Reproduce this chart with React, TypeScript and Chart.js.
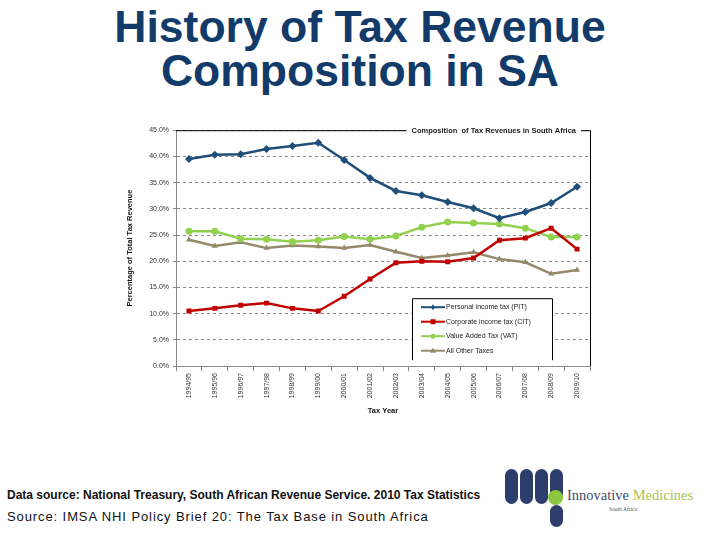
import React, { useEffect, useRef } from "react";
import { Chart, registerables } from "chart.js";

Chart.register(...registerables);

const taxYears = [
  "1994/95", "1995/96", "1996/97", "1997/98", "1998/99", "1999/00", "2000/01", "2001/02",
  "2002/03", "2003/04", "2004/05", "2005/06", "2006/07", "2007/08", "2008/09", "2009/10",
];
const personalIncomeTax = [39.5, 40.3, 40.4, 41.4, 42.0, 42.6, 39.3, 35.9, 33.4, 32.6, 31.3, 30.1, 28.2, 29.4, 31.1, 34.2];
const corporateIncomeTax = [10.5, 11.0, 11.6, 12.0, 11.0, 10.5, 13.3, 16.6, 19.7, 20.0, 19.9, 20.6, 24.0, 24.4, 26.3, 22.3];
const valueAddedTax = [25.7, 25.7, 24.3, 24.2, 23.7, 24.0, 24.7, 24.2, 24.8, 26.5, 27.5, 27.3, 27.1, 26.3, 24.6, 24.6];
const allOtherTaxes = [24.1, 22.9, 23.6, 22.5, 23.0, 22.8, 22.5, 23.1, 21.8, 20.6, 21.1, 21.7, 20.4, 19.8, 17.6, 18.3];

const seriesNames = [
  "Personal income tax (PIT)",
  "Corporate income tax (CIT)",
  "Value Added Tax (VAT)",
  "All Other Taxes",
];
const seriesColors = ["#1F4E79", "#C00000", "#92D050", "#948A6A"];
const seriesMarkers = ["rectRot", "rect", "circle", "triangle"];
const chartTitle = "Composition  of Tax Revenues in South Africa";

const SANS = "'Liberation Sans', Arial, sans-serif";

// Frame (black top/right edges), boxed title and the inset legend
const framePlugin = {
  id: "frame",
  afterDraw(chart: any) {
    const { ctx, chartArea } = chart;
    const { left, right, top, bottom } = chartArea;
    ctx.save();
    ctx.strokeStyle = "#000";
    ctx.lineWidth = 1;
    ctx.beginPath();
    ctx.moveTo(left, top + 0.5);
    ctx.lineTo(right + 0.5, top + 0.5);
    ctx.lineTo(right + 0.5, bottom);
    ctx.stroke();

    // title over the top edge
    ctx.font = `bold 7.5px ${SANS}`;
    const tw = ctx.measureText(chartTitle).width;
    const tx = right - 14 - tw;
    ctx.fillStyle = "#fff";
    ctx.fillRect(tx - 5, top - 5, tw + 10, 11);
    ctx.fillStyle = "#222";
    ctx.textBaseline = "middle";
    ctx.fillText(chartTitle, tx, top + 1);

    // legend box
    const lx = left + 236;
    const ly = top + 168;
    const lw = 140;
    const lh = 62;
    ctx.fillStyle = "#fff";
    ctx.fillRect(lx, ly, lw, lh);
    ctx.beginPath();
    ctx.moveTo(lx + 0.5, ly + lh);
    ctx.lineTo(lx + 0.5, ly + 0.5);
    ctx.lineTo(lx + lw + 0.5, ly + 0.5);
    ctx.lineTo(lx + lw + 0.5, ly + lh);
    ctx.stroke();
    ctx.font = `7px ${SANS}`;
    chart.data.datasets.forEach((ds: any, i: number) => {
      const y = ly + 9 + i * 14.5;
      ctx.strokeStyle = ds.borderColor;
      ctx.lineWidth = 2;
      ctx.beginPath();
      ctx.moveTo(lx + 9, y);
      ctx.lineTo(lx + 33, y);
      ctx.stroke();
      ctx.fillStyle = ds.borderColor;
      const m = ds.pointStyle;
      const cx = lx + 21;
      ctx.beginPath();
      if (m === "rect") ctx.rect(cx - 2.5, y - 2.5, 5, 5);
      else if (m === "circle") ctx.arc(cx, y, 2.5, 0, Math.PI * 2);
      else if (m === "triangle") { ctx.moveTo(cx, y - 3); ctx.lineTo(cx + 3, y + 2); ctx.lineTo(cx - 3, y + 2); ctx.closePath(); }
      else { ctx.moveTo(cx, y - 3); ctx.lineTo(cx + 2, y); ctx.lineTo(cx, y + 3); ctx.lineTo(cx - 2, y); ctx.closePath(); }
      ctx.fill();
      ctx.fillStyle = "#222";
      ctx.textBaseline = "middle";
      ctx.fillText(ds.label, lx + 34, y);
    });
    ctx.restore();
  },
};

function TaxChart() {
  const ref = useRef<HTMLCanvasElement>(null);
  useEffect(() => {
    if (!ref.current) return;
    const values = [personalIncomeTax, corporateIncomeTax, valueAddedTax, allOtherTaxes];
    const chart = new Chart(ref.current, {
      type: "line",
      data: {
        labels: taxYears,
        datasets: values.map((d, i) => ({
          label: seriesNames[i],
          data: d,
          borderColor: seriesColors[i],
          backgroundColor: seriesColors[i],
          borderWidth: 2.5,
          pointStyle: seriesMarkers[i] as any,
          pointRadius: i === 0 ? 4 : 3.5,
          pointBorderWidth: 0,
          tension: 0,
        })),
      },
      options: {
        animation: false,
        responsive: false,
        devicePixelRatio: 1,
        layout: { padding: { top: 7, right: 5, left: 0, bottom: 0 } },
        plugins: { legend: { display: false }, tooltip: { enabled: false }, title: { display: false } },
        scales: {
          x: {
            offset: true,
            grid: { offset: true, drawOnChartArea: false, drawTicks: true, tickLength: 5, color: "#888" },
            border: { color: "#888" },
            ticks: { font: { family: SANS, size: 7 }, color: "#333", maxRotation: 90, minRotation: 90, autoSkip: false, padding: 2 },
            title: { display: true, text: "Tax Year", font: { family: SANS, size: 7.5, weight: "bold" }, color: "#111", padding: { top: 0, bottom: 0 } },
            afterFit: (s: any) => { s.height = 49; },
          },
          y: {
            min: 0,
            max: 45,
            ticks: { stepSize: 5, callback: (v: any) => Number(v).toFixed(1) + "%", font: { family: SANS, size: 7 }, color: "#333", padding: 4 },
            grid: { color: (c: any) => (c.tick && c.tick.value === 0 ? "rgba(0,0,0,0)" : "#888"), drawTicks: true, tickLength: 3, tickColor: "#888" },
            border: { color: "#888", dash: [3, 3] },
            title: { display: true, text: "Percentage of Total Tax Revenue", font: { family: SANS, size: 7.5, weight: "bold" }, color: "#111", padding: { top: 0, bottom: 2 } },
            afterFit: (s: any) => { s.width = 51; },
          },
        },
      },
      plugins: [framePlugin],
    });
    return () => chart.destroy();
  }, []);
  return <canvas ref={ref} width={470} height={293} style={{ position: "absolute", left: 125, top: 122 }} />;
}

function Logo() {
  const navy = "#2D3E6C";
  const pill = (left: number, top: number, h: number) => (
    <div style={{ position: "absolute", left, top, width: 13, height: h, borderRadius: 6.5, background: navy }} />
  );
  return (
    <div style={{ position: "absolute", left: 0, top: 0 }}>
      {pill(505, 469, 35)}
      {pill(520, 469, 35)}
      {pill(535, 469, 35)}
      {pill(550, 469, 31)}
      {pill(550, 505, 22)}
      <div style={{ position: "absolute", left: 548, top: 490, width: 15, height: 15, borderRadius: 7.5, background: "#8DC63F" }} />
      <div style={{ position: "absolute", left: 567, top: 487, fontFamily: "'Liberation Serif', 'DejaVu Serif', serif", fontSize: 14.5, whiteSpace: "nowrap" }}>
        <span style={{ color: "#3F4A6B" }}>Innovative </span>
        <span style={{ color: "#A7C44A" }}>Medicines</span>
      </div>
      <div style={{ position: "absolute", left: 609, top: 506, fontFamily: "'Liberation Serif', serif", fontSize: 5.5, color: "#555", whiteSpace: "nowrap" }}>
        South Africa
      </div>
    </div>
  );
}

export default function App() {
  useEffect(() => {
    document.body.style.margin = "0";
  }, []);
  return (
    <div style={{ position: "relative", width: 720, height: 540, background: "#fff", overflow: "hidden" }}>
      <div
        style={{
          position: "absolute",
          left: 0,
          width: 720,
          top: 5,
          textAlign: "center",
          fontFamily: SANS,
          fontWeight: "bold",
          fontSize: 44.5,
          lineHeight: "44px",
          color: "#133B6A",
        }}
      >
        History of Tax Revenue
        <br />
        Composition in SA
      </div>
      <TaxChart />
      <div style={{ position: "absolute", left: 7, top: 488, fontFamily: SANS, fontWeight: "bold", fontSize: 12, color: "#111", whiteSpace: "nowrap" }}>
        Data source: National Treasury, South African Revenue Service. 2010 Tax Statistics
      </div>
      <div style={{ position: "absolute", left: 7, top: 509, fontFamily: SANS, fontSize: 13, color: "#111", whiteSpace: "nowrap", letterSpacing: 0.9 }}>
        Source: IMSA NHI Policy Brief 20: The Tax Base in South Africa
      </div>
      <Logo />
    </div>
  );
}
